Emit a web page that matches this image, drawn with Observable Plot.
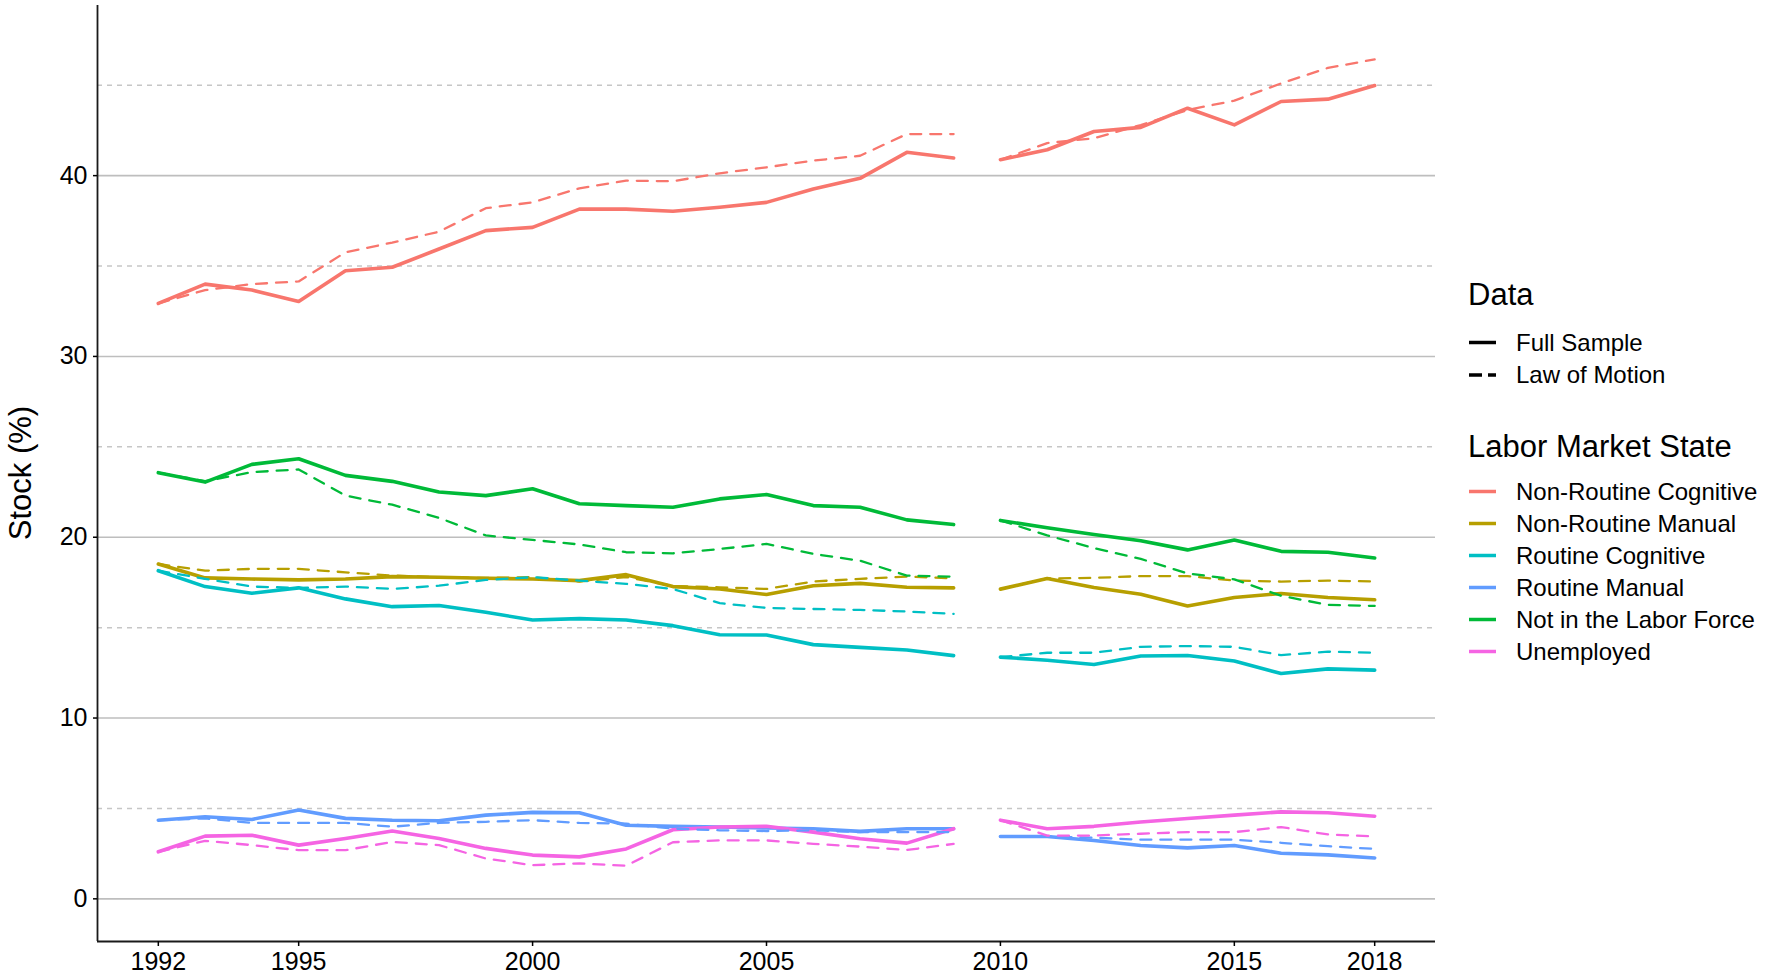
<!DOCTYPE html>
<html>
<head>
<meta charset="utf-8">
<script src="https://cdn.jsdelivr.net/npm/d3@7"></script>
<script src="https://cdn.jsdelivr.net/npm/@observablehq/plot@0.6"></script>
<style>
  html, body { margin: 0; padding: 0; background: #fff; }
  #chart { position: relative; width: 1770px; height: 978px; }
</style>
</head>
<body>
<div id="chart"></div>
<script>
// ---------------- data ----------------
const years = [1992,1993,1994,1995,1996,1997,1998,1999,2000,2001,2002,2003,2004,2005,2006,2007,2008,2009,2010,2011,2012,2013,2014,2015,2016,2017,2018];
const breakAfter = 2009; // survey break: lines are not joined between 2009 and 2010

const states = ["Non-Routine Cognitive","Non-Routine Manual","Routine Cognitive","Routine Manual","Not in the Labor Force","Unemployed"];
const stateColors = ["#F8766D","#B79F00","#00BFC4","#619CFF","#00BA38","#F564E3"];
const dataTypes = ["Full Sample","Law of Motion"];

const nrcFull = [32.93,34.0,33.67,33.04,34.74,34.93,35.94,36.96,37.14,38.15,38.15,38.03,38.25,38.52,39.26,39.85,41.29,40.98,40.88,41.43,42.44,42.67,43.73,42.81,44.1,44.23,44.98];
const nrcLom  = [32.93,33.67,34.0,34.15,35.76,36.3,36.9,38.2,38.52,39.3,39.72,39.69,40.13,40.46,40.83,41.1,42.3,42.3,40.88,41.8,42.07,42.8,43.63,44.15,45.1,45.96,46.43];

const nrmFull = [18.52,17.75,17.69,17.64,17.69,17.82,17.79,17.73,17.69,17.6,17.93,17.27,17.14,16.83,17.32,17.45,17.23,17.2,17.13,17.72,17.22,16.85,16.2,16.67,16.89,16.67,16.54];
const nrmLom  = [18.52,18.15,18.25,18.25,18.06,17.88,17.79,17.75,17.79,17.55,17.8,17.3,17.23,17.14,17.55,17.7,17.82,17.73,17.13,17.72,17.75,17.85,17.85,17.6,17.55,17.6,17.55];

const rcFull = [18.15,17.27,16.9,17.2,16.59,16.16,16.22,15.85,15.42,15.5,15.42,15.11,14.61,14.59,14.06,13.91,13.76,13.45,13.37,13.2,12.96,13.43,13.46,13.15,12.46,12.72,12.65];
const rcLom  = [18.15,17.7,17.27,17.2,17.27,17.14,17.32,17.64,17.79,17.6,17.42,17.14,16.35,16.09,16.03,15.98,15.89,15.76,13.37,13.61,13.61,13.94,13.98,13.94,13.48,13.67,13.61];

const rmFull = [4.35,4.54,4.39,4.91,4.45,4.35,4.32,4.63,4.78,4.76,4.07,4.01,3.97,3.92,3.88,3.73,3.88,3.88,3.45,3.45,3.23,2.95,2.82,2.95,2.52,2.43,2.26];
const rmLom  = [4.35,4.45,4.2,4.2,4.2,3.99,4.2,4.26,4.35,4.2,4.16,3.88,3.79,3.75,3.79,3.69,3.69,3.69,3.45,3.45,3.38,3.27,3.27,3.27,3.1,2.91,2.76];

const nlfFull = [23.57,23.05,24.03,24.34,23.42,23.09,22.5,22.3,22.68,21.85,21.75,21.66,22.12,22.36,21.75,21.66,20.96,20.7,20.93,20.52,20.15,19.81,19.3,19.85,19.22,19.17,18.85];
const nlfLom  = [23.57,23.1,23.6,23.75,22.3,21.8,21.07,20.1,19.85,19.6,19.17,19.11,19.35,19.63,19.08,18.7,17.88,17.82,20.93,20.1,19.4,18.8,18.0,17.67,16.76,16.26,16.2];

const unFull = [2.6,3.47,3.52,2.97,3.34,3.75,3.34,2.79,2.42,2.32,2.76,3.82,3.97,4.01,3.69,3.32,3.08,3.88,4.35,3.88,4.01,4.25,4.44,4.63,4.81,4.76,4.57];
const unLom  = [2.6,3.21,2.97,2.69,2.69,3.15,2.97,2.23,1.86,1.96,1.83,3.13,3.23,3.23,3.04,2.89,2.7,3.04,4.35,3.5,3.5,3.6,3.69,3.69,3.97,3.56,3.45];

const xTicks = [1992,1995,2000,2005,2010,2015,2018];
const yMajor = [0,10,20,30,40];
const yMinor = [5,15,25,35,45];
const xDomain = [1990.7, 2019.3];
const yDomain = [-2.36, 49.41];

// ---------------- table ----------------
const seriesFull = [nrcFull, nrmFull, rcFull, rmFull, nlfFull, unFull];
const seriesLom  = [nrcLom, nrmLom, rcLom, rmLom, nlfLom, unLom];
function rows(seriesList, type) {
  const out = [];
  seriesList.forEach((vals, si) => {
    vals.forEach((v, i) => {
      out.push({state: states[si], type, year: years[i], value: v, seg: years[i] <= breakAfter ? "a" : "b"});
    });
  });
  return out;
}
const fullRows = rows(seriesFull, dataTypes[0]);
const lomRows = rows(seriesLom, dataTypes[1]);

// ---------------- chart ----------------
const W = 1770, H = 978;
const font = "'Liberation Sans', Arial, Helvetica, sans-serif";

const chart = Plot.plot({
  width: W, height: H,
  marginLeft: 97, marginRight: 335, marginTop: 5, marginBottom: 37,
  x: {domain: xDomain},
  y: {domain: yDomain},
  color: {domain: states, range: stateColors},
  style: {fontFamily: font, fontSize: "25px", color: "black", background: "white", overflow: "visible"},
  marks: [
    Plot.ruleY(yMinor, {stroke: "#c6c6c6", strokeWidth: 1.5, strokeDasharray: "5,5"}),
    Plot.ruleY(yMajor, {stroke: "#bebebe", strokeWidth: 1.6}),
    Plot.lineY(fullRows, {x: "year", y: "value", z: d => d.state + "|" + d.seg, stroke: "state", strokeWidth: 3.6, strokeLinejoin: "round"}),
    Plot.lineY(lomRows, {x: "year", y: "value", z: d => d.state + "|" + d.seg, stroke: "state", strokeWidth: 2.3, strokeDasharray: "11,9"}),
    Plot.ruleX([xDomain[0]], {stroke: "#1a1a1a", strokeWidth: 1.8}),
    Plot.ruleY([yDomain[0]], {stroke: "#1a1a1a", strokeWidth: 1.8}),
    Plot.axisX({ticks: xTicks, tickFormat: d => String(d), tickSize: 5, tickPadding: 6, label: null, fontSize: 25, strokeWidth: 1.5}),
    Plot.axisY({ticks: yMajor, tickSize: 4, tickPadding: 6, label: null, fontSize: 25, strokeWidth: 1.5})
  ]
});
document.getElementById("chart").appendChild(chart);

// ---------------- y-axis title and legend (overlay, real text) ----------------
const svg = d3.select(chart);
svg.append("text")
  .attr("transform", "translate(31,473) rotate(-90)")
  .attr("text-anchor", "middle")
  .attr("font-family", font).attr("font-size", 31).attr("fill", "black")
  .text("Stock (%)");

const lg = svg.append("g").attr("font-family", font).attr("fill", "black").attr("text-anchor", "start");
const lx = 1468, keyX0 = 1469, keyX1 = 1496, textX = 1516;

lg.append("text").attr("x", lx).attr("y", 305).attr("font-size", 31).attr("text-anchor", "start").text("Data");
const typeDash = [null, "13,6,8"];
dataTypes.forEach((t, i) => {
  const y = 342.5 + i * 32.5;
  lg.append("line").attr("x1", keyX0).attr("x2", keyX1).attr("y1", y).attr("y2", y)
    .attr("stroke", "black").attr("stroke-width", 3.5).attr("stroke-dasharray", typeDash[i]);
  lg.append("text").attr("x", textX).attr("y", y).attr("dy", "0.35em").attr("font-size", 24).attr("text-anchor", "start").text(t);
});

lg.append("text").attr("x", lx).attr("y", 457).attr("font-size", 31).attr("text-anchor", "start").text("Labor Market State");
states.forEach((s, i) => {
  const y = 491.5 + i * 32;
  lg.append("line").attr("x1", keyX0).attr("x2", keyX1).attr("y1", y).attr("y2", y)
    .attr("stroke", stateColors[i]).attr("stroke-width", 3.5);
  lg.append("text").attr("x", textX).attr("y", y).attr("dy", "0.35em").attr("font-size", 24).attr("text-anchor", "start").text(s);
});
</script>
</body>
</html>
